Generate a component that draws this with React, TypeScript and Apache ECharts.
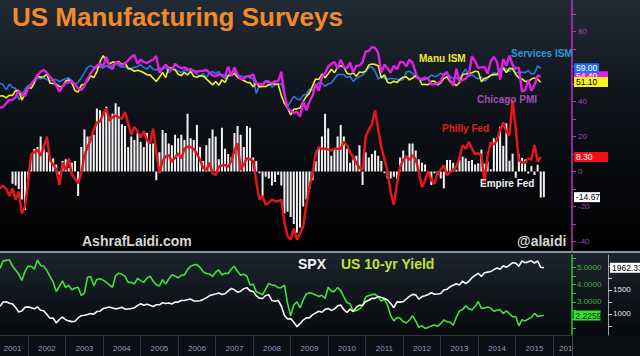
import React, { useEffect, useRef } from 'react';
import * as echarts from 'echarts';

const FONT = '"Liberation Sans", Arial, sans-serif';

// ---- category axis: months, Apr 2001 .. Jul 2016 ----
const START_YEAR = 2001;
const START_MONTH = 4;
const N_CATS = 184;
const months: string[] = [];
for (let k = 0; k < N_CATS; k++) {
  const m0 = START_MONTH - 1 + k;
  const y = START_YEAR + Math.floor(m0 / 12);
  const m = (m0 % 12) + 1;
  months.push(`${y}-${String(m).padStart(2, '0')}`);
}

// year labels of the bottom axis and the month under which each is centred
const yearLabels = ['2001', '2002', '2003', '2004', '2005', '2006', '2007', '2008', '2009', '2010', '2011', '2012', '2013', '2014', '2015', '201'];
const yearLabelMonths = ['2001-08', '2002-07', '2003-07', '2004-07', '2005-07', '2006-07', '2007-07', '2008-07', '2009-07', '2010-07', '2011-07', '2012-07', '2013-07', '2014-07', '2015-07', '2016-05'];

// ---- upper panel (diffusion indices), one value per month from the first category ----
const manuISM = [
  43.1, 43.2, 42.1, 43.6, 43.5, 46.3, 46.2, 40.8, 44.5, 48.2,
  47.5, 50.7, 54.7, 53.9, 54.1, 55.7, 50.5, 50.3, 50.0, 48.5, 48.5, 51.6,
  52.4, 50.5, 46.2, 45.4, 49.4, 49.8, 51.8, 54.7, 53.7, 57.0, 62.8, 66.2,
  63.6, 61.4, 62.5, 62.4, 62.8, 61.1, 62.0, 59.0, 58.5, 57.3, 57.8, 57.3,
  56.4, 55.3, 55.2, 53.3, 51.4, 53.8, 56.6, 53.6, 59.4, 59.1, 58.1, 55.6,
  54.8, 56.7, 55.2, 57.3, 54.4, 53.8, 54.7, 54.5, 52.9, 51.2, 49.5, 51.4,
  49.3, 52.3, 50.9, 54.7, 55.0, 56.0, 53.8, 52.9, 52.0, 50.9, 50.8, 48.4,
  50.7, 48.3, 48.6, 48.6, 49.6, 50.2, 50.0, 49.9, 43.5, 38.9, 36.2, 32.4,
  35.6, 35.8, 36.3, 40.1, 42.8, 44.8, 48.9, 52.9, 52.6, 55.7, 53.6, 55.9,
  58.4, 56.5, 59.6, 60.4, 59.7, 56.2, 55.5, 56.3, 54.4, 56.9, 56.6, 57.5,
  60.8, 61.4, 61.2, 60.4, 53.5, 55.3, 50.9, 50.6, 51.6, 50.8, 52.7, 53.9,
  54.1, 52.4, 53.4, 54.8, 53.5, 49.7, 49.8, 49.6, 51.5, 51.7, 49.5, 50.7,
  53.1, 54.2, 51.3, 50.7, 49.0, 50.9, 55.4, 55.7, 56.2, 56.4, 57.3, 57.0,
  51.3, 53.2, 53.7, 54.9, 55.4, 55.3, 57.1, 59.0, 56.6, 59.0, 58.7, 55.5,
  53.5, 52.9, 51.5, 51.5, 52.8, 53.5, 52.7, 51.1,
];

const servicesISM = [
  50.5, 49.5, 46.6, 50.0, 48.0, 47.5, 41.0, 43.5, 47.0, 49.0,
  49.5, 52.5, 53.5, 53.0, 53.4, 52.5, 51.8, 52.4, 52.5, 51.3, 52.3, 53.0,
  53.5, 52.0, 49.5, 51.0, 53.5, 56.5, 59.5, 60.5, 59.5, 59.0, 60.0, 59.0,
  60.5, 59.0, 61.0, 61.5, 60.5, 59.5, 60.0, 58.5, 59.0, 59.5, 60.0, 61.0,
  59.5, 58.5, 60.5, 58.5, 58.0, 59.0, 58.5, 59.5, 56.5, 58.0, 58.5, 57.5,
  56.5, 58.0, 57.5, 59.0, 57.0, 55.5, 54.5, 56.0, 53.5, 56.5, 57.0, 56.0,
  57.0, 54.5, 53.0, 55.5, 56.5, 57.0, 54.5, 54.5, 54.0, 54.5, 53.5, 53.0,
  44.6, 49.3, 49.6, 52.0, 51.7, 48.2, 49.5, 50.0, 50.2, 44.4, 37.3, 40.1,
  42.9, 41.6, 40.8, 43.7, 44.0, 47.0, 46.4, 48.4, 50.9, 50.6, 48.7, 50.1,
  50.5, 53.0, 55.4, 55.4, 55.4, 53.8, 54.3, 51.5, 53.2, 54.3, 55.0, 57.1,
  59.4, 59.7, 57.3, 52.8, 54.6, 53.3, 52.7, 53.3, 53.0, 52.9, 52.0, 52.6,
  56.8, 57.3, 56.0, 53.5, 53.7, 52.1, 52.6, 53.7, 55.1, 54.2, 54.7, 56.1,
  55.2, 56.0, 54.4, 53.1, 53.7, 52.2, 56.0, 58.6, 54.4, 55.4, 53.9, 53.0,
  54.0, 51.6, 53.1, 55.2, 56.3, 56.0, 58.7, 59.6, 58.6, 57.1, 59.3, 56.2,
  56.7, 56.9, 56.5, 57.8, 55.7, 56.0, 60.3, 59.0,
];

const chicagoPMI = [
  36.3, 37, 39, 40.9, 41, 42.5, 46, 44.5, 43, 48,
  50, 52.3, 55, 57, 58, 56.5, 54, 52.3, 49, 45.6,
  48.5, 50.5, 51, 51.5, 49.7, 47.5, 46.6, 49, 53, 56,
  58.5, 60.5, 61.8, 60, 65.5, 60, 58.5, 62.5, 62, 60.5,
  61.8, 63.5, 65.5, 66.6, 61.5, 64, 62.5, 62, 63, 64,
  66, 56.5, 59, 61, 59, 58, 61.5, 60, 59, 59.5,
  58.5, 58, 57.5, 57, 57.5, 57.5, 58, 56.5, 55, 54.5,
  55.5, 55, 54.5, 60, 54.5, 59.5, 55.5, 53, 53, 54.5,
  54.5, 55.5, 50.5, 50, 49.5, 51.5, 51, 50.5, 51.5, 51.5,
  57, 44, 36, 35,
  33.3, 34.2, 31.4, 40.1, 34.9, 39.9, 43.4, 50.0, 46.1, 54.2, 56.1, 60.0,
  61.5, 62.6, 58.8, 63.8, 59.7, 59.1, 62.3, 56.7, 60.4, 60.6, 62.5, 68.6,
  68.8, 71.2, 70.6, 67.6, 56.6, 61.1, 58.8, 56.5, 60.4, 58.4, 62.6, 62.5,
  60.2, 64.0, 62.2, 56.2, 52.7, 52.9, 53.7, 53.0, 49.7, 49.9, 50.4, 51.6,
  55.6, 56.8, 52.4, 49.0, 58.7, 51.6, 52.3, 53.0, 55.7, 65.9, 63.0, 59.1,
  59.6, 59.8, 55.9, 63.0, 65.5, 62.6, 52.6, 64.3, 60.5, 66.2, 60.8, 58.8,
  59.4, 45.8, 46.3, 52.3, 46.2, 49.4, 54.7, 54.4,
];

const phillyFed = [
  -9.6, -8, -10, -14, -9.5, -16, -11.5, -24, -20, -6,
  10, 11, 12.5, 9, 14, 20, 6.6, 4, 1, -7.7,
  5, 1, 7.5, -2, -4, -6.8, -1, 9, 14, 18,
  24, 28, 28.5, 33, 36, 29, 31, 32, 31, 30,
  34, 27.5, 21, 25.5, 23, 19.5, 23, 18, 16, 24.5,
  11, -1, 6, 8.5, 9.4, 5.6, 8, 10.4, 7.5, 13,
  14.2, 14, 13, 10, 6.6, 2, 1, 5, -1, -2,
  2.7, 3.5, 3.7, 2.7, 6, 12, 16, 1, 4, 7.5,
  7, 6, -5.8, -16, -14, -19, -18, -16, -17, -17,
  -16, -29, -37, -39, -32.5, -39, -35.3, -31.5, -19, -9,
  -1, 10, 14, 13, 13, 12.5, 12, 13, 13, 13,
  17, 15, 11, 8, 5, 2, 1, 20, 24, 27,
  35, 24, 14, 7, 0, -12, -19, -7, 2.7, 6.6,
  8.5, 6.6, 9.4, 7, 0, -9, -5, 0, -5, -7,
  -1, 1, 3.5, -2, -0.5, 1, 2.7, 8, 15, 13,
  17, 13, 10, 10.4,
  9.4, -6.3, 9.0, 16.6, 15.4, 17.8, 23.9, 28.0, 22.5, 20.7, 40.8, 24.3,
  6.3, 5.2, 5.0, 7.5, 6.7, 15.2, 5.7, 8.3,
];

// Empire Fed survey starts four months after the first category
const EMPIRE_OFFSET = 4;
const empireFed = [
  -7, -8, -10, -16, -22, -5, 10, 13, 14, 20,
  13, 11, 8, 7.5, 4, -2, 6, 7, 2, 5,
  6, -14, 14, 24, 20, 20, 21, 36, 35, 33,
  37, 31, 33, 39, 37, 27, 26, 14, 20, 18,
  22, 17, 14, 22, 17, 16, -5, 11, 23.7, 22,
  16, 15, 21, 19, 21, 18, 33, 19, 18, 26.6,
  14, 6, 15, 19, 24, 20, 7, 25, 13, 10,
  8, 22, 26, 21, 14, 26, 25, 8, 6, -1,
  -14, -3, -4, -8, -6, -2, -8, -24, -23, -26,
  -30, -35, -32, -20, -16, -10, -5, 6, 14, 20,
  33, 24.7, 9, 13, 20, 26.6, 20, 13, 5, 7,
  9, 15, -7.7, 11, 8, 10, 12, 9, 6, -1,
  -4, -4, -3, -4, 8, 12, 9, 16, 16, 12,
  7, 5, 4, -2, -7.7, -1, -2, -4, -9.6, 6.6,
  6.6, 5, 1, 6.6, 8.5, 7.5, 6, 6.6, 4, 4.7,
  12.5, 4.5, 5.6, 1.3, 19.0, 19.3, 25.6, 14.7, 27.5, 6.2, 10.2, -3.6,
  10.0, 7.8, 6.9, -1.2, 3.1, -2.0, 3.9, -14.9, -14.67,
];

// ---- lower panel ----
const spx = [
  1160,
  1249, 1256, 1224, 1211, 1134, 1041, 1060, 1139, 1148,
  1130, 1107, 1147, 1077, 1067, 990, 912, 916, 815, 886, 936, 880,
  856, 841, 848, 917, 964, 975, 990, 1008, 996, 1051, 1058, 1112,
  1131, 1145, 1126, 1107, 1121, 1141, 1102, 1104, 1115, 1130, 1174, 1212,
  1181, 1204, 1181, 1157, 1192, 1191, 1234, 1220, 1229, 1207, 1249, 1248,
  1280, 1281, 1295, 1311, 1270, 1270, 1277, 1304, 1336, 1378, 1401, 1418,
  1438, 1407, 1421, 1482, 1531, 1503, 1455, 1474, 1527, 1549, 1481, 1468,
  1379, 1331, 1323, 1386, 1400, 1280, 1267, 1283, 1166, 969, 896, 903,
  826, 735, 798, 873, 919, 919, 987, 1021, 1057, 1036, 1096, 1115,
  1074, 1104, 1169, 1187, 1089, 1031, 1102, 1049, 1141, 1183, 1181, 1258,
  1286, 1327, 1326, 1364, 1345, 1321, 1292, 1219, 1131, 1253, 1247, 1258,
  1312, 1366, 1408, 1398, 1310, 1362, 1379, 1407, 1441, 1412, 1416, 1426,
  1498, 1515, 1569, 1598, 1631, 1606, 1686, 1633, 1682, 1757, 1806, 1848,
  1783, 1859, 1872, 1884, 1924, 1960, 1931, 2003, 1972, 2018, 2068, 2059,
  1995, 2105, 2068, 2086, 2107, 2063, 2104, 1972,
  1962.33,
];

const us10y = [
  4.92,
  5.35, 5.38, 5.41, 5.05, 4.83, 4.59, 4.23, 4.75, 5.05,
  5.03, 4.88, 5.40, 5.09, 5.04, 4.80, 4.46, 4.14, 3.60, 3.89, 4.21, 3.82,
  3.96, 3.69, 3.80, 3.84, 3.37, 3.51, 4.41, 4.46, 3.94, 4.29, 4.33, 4.25,
  4.13, 3.97, 3.84, 4.51, 4.65, 4.58, 4.48, 4.12, 4.12, 4.03, 4.35, 4.22,
  4.13, 4.36, 4.48, 4.20, 3.98, 3.92, 4.28, 4.02, 4.32, 4.56, 4.49, 4.39,
  4.52, 4.55, 4.85, 5.05, 5.12, 5.14, 4.98, 4.73, 4.63, 4.60, 4.46, 4.70,
  4.83, 4.56, 4.64, 4.63, 4.89, 5.03, 4.74, 4.53, 4.59, 4.47, 3.97, 4.02,
  3.59, 3.51, 3.41, 3.73, 4.06, 3.97, 3.95, 3.81, 3.82, 3.97, 2.93, 2.21,
  2.84, 3.01, 2.67, 3.12, 3.46, 3.53, 3.48, 3.40, 3.31, 3.39, 3.20, 3.84,
  3.61, 3.61, 3.83, 3.65, 3.29, 2.97, 2.90, 2.47, 2.51, 2.60, 2.80, 3.29,
  3.37, 3.42, 3.45, 3.29, 3.05, 3.16, 2.80, 2.22, 1.92, 2.11, 2.07, 1.88,
  1.80, 1.97, 2.21, 1.91, 1.56, 1.64, 1.49, 1.55, 1.63, 1.69, 1.61, 1.76,
  1.98, 1.87, 1.85, 1.67, 2.13, 2.49, 2.58, 2.78, 2.61, 2.55, 2.74, 3.03,
  2.64, 2.65, 2.72, 2.65, 2.47, 2.53, 2.56, 2.34, 2.49, 2.33, 2.16, 2.17,
  1.64, 1.99, 1.92, 2.03, 2.12, 2.35, 2.18, 2.21,
  2.2259,
];

const last = (a: number[]) => a[a.length - 1];

function tag(value: number, text: string, bg: string, fg: string, w: number, xOff: number, z: number) {
  return {
    z,
    silent: true,
    animation: false,
    symbol: 'rect',
    symbolSize: [w, 10],
    symbolOffset: [xOff, 0],
    itemStyle: { color: bg },
    label: {
      show: true,
      position: 'insideLeft',
      distance: 2,
      formatter: text,
      color: fg,
      fontSize: 8.5,
      fontFamily: FONT,
    },
    data: [{ coord: [months[N_CATS - 1], value] }],
  };
}

function txt(x: number, y: number, text: string, fill: string, size: number) {
  return {
    type: 'text',
    x,
    y,
    z: 100,
    silent: true,
    style: {
      text,
      fill,
      font: `bold ${size}px ${FONT}`,
      textAlign: 'left',
      textVerticalAlign: 'middle',
    },
  };
}

function buildOption() {
  const empireData = [...new Array(EMPIRE_OFFSET).fill(null), ...empireFed];
  return {
    animation: false,
    backgroundColor: '#000',
    textStyle: { fontFamily: FONT },
    graphic: [
      {
        type: 'rect', z: -10, silent: true,
        shape: { x: 0, y: 0, width: 640, height: 252 },
        style: {
          fill: new echarts.graphic.LinearGradient(0, 0, 0, 1, [
            { offset: 0, color: '#212b36' },
            { offset: 0.45, color: '#0d1117' },
            { offset: 1, color: '#000000' },
          ]),
        },
      },
      {
        type: 'rect', z: -10, silent: true,
        shape: { x: 0, y: 251, width: 640, height: 2 },
        style: { fill: '#8d949b' },
      },
      {
        type: 'rect', z: -10, silent: true,
        shape: { x: 0, y: 253, width: 640, height: 82 },
        style: {
          fill: new echarts.graphic.LinearGradient(0, 0, 0, 1, [
            { offset: 0, color: '#1c242e' },
            { offset: 1, color: '#07090c' },
          ]),
        },
      },
      {
        type: 'rect', z: -10, silent: true,
        shape: { x: 0, y: 335, width: 640, height: 21 },
        style: { fill: '#0b0e13' },
      },
      {
        type: 'line', z: 1, silent: true,
        shape: { x1: 572.5, y1: 335, x2: 572.5, y2: 356 },
        style: { stroke: '#3a4350', lineWidth: 1 },
      },
      txt(12, 17, 'US Manufacturing Surveys', '#f28a2a', 26),
      txt(419, 58, 'Manu ISM', '#ecec2c', 10),
      txt(511, 53, 'Services ISM', '#3396d8', 10),
      txt(477, 99, 'Chicago PMI', '#a14fbd', 10),
      txt(442, 128, 'Philly Fed', '#e0201f', 10),
      txt(480, 183, 'Empire Fed', '#f2f2f2', 10),
      txt(82, 241, 'AshrafLaidi.com', '#d6d6d6', 14),
      txt(517, 241, '@alaidi', '#d6d6d6', 14),
      txt(298, 264, 'SPX', '#f4f4f4', 14),
      txt(341, 264, 'US 10-yr Yield', '#c5e22c', 14),
    ],
    grid: [
      { left: 0, top: 0, width: 572, height: 252, outerBoundsMode: 'none' },
      { left: 0, top: 255, width: 572, height: 80, outerBoundsMode: 'none' },
    ],
    xAxis: [
      { type: 'category', gridIndex: 0, data: months, boundaryGap: false, show: false },
      {
        type: 'category', gridIndex: 1, data: months, boundaryGap: false,
        axisLine: { show: true, lineStyle: { color: '#2e3642', width: 1 } },
        axisTick: {
          show: true, length: 21,
          interval: (_i: number, v: string) => v.endsWith('-01'),
          lineStyle: { color: '#2e3642', width: 1 },
        },
        axisLabel: {
          show: true,
          interval: (_i: number, v: string) => yearLabelMonths.includes(v),
          formatter: (v: string) => yearLabels[yearLabelMonths.indexOf(v)] ?? '',
          color: '#8d9cbc', fontSize: 8, margin: 9,
        },
        splitLine: { show: false },
      },
    ],
    yAxis: [
      {
        type: 'value', gridIndex: 0, position: 'right',
        min: -46, max: 98, minInterval: 10, maxInterval: 10,
        axisLine: { show: true, lineStyle: { color: '#c22fc6', width: 1.5 } },
        axisTick: { show: true, length: 4, lineStyle: { color: '#c22fc6' } },
        axisLabel: {
          showMinLabel: false, showMaxLabel: false, margin: 6,
          color: '#a544b8', fontSize: 8,
          formatter: (v: number) => (v % 20 === 0 && v !== 60 && v >= -40 && v <= 80 ? String(v) : ''),
        },
        splitLine: { show: false },
      },
      {
        type: 'value', gridIndex: 1, position: 'right',
        min: 1.114, max: 5.686, minInterval: 0.5, maxInterval: 0.5,
        axisLine: { show: true, lineStyle: { color: '#2fc42f', width: 1.5 } },
        axisTick: { show: true, length: 4, lineStyle: { color: '#2fc42f' } },
        axisLabel: {
          showMinLabel: false, showMaxLabel: false, margin: 5,
          color: '#3cb43c', fontSize: 8,
          formatter: (v: number) => (Math.abs(v - Math.round(v)) < 1e-9 && v >= 3 && v <= 5 ? v.toFixed(4) : ''),
        },
        splitLine: { show: false },
      },
      {
        type: 'value', gridIndex: 1, position: 'right', offset: 36,
        min: 562, max: 2229, minInterval: 250, maxInterval: 250,
        axisLine: { show: true, lineStyle: { color: '#9aa1a8', width: 1 } },
        axisTick: { show: true, length: 4, lineStyle: { color: '#d0d0d0' } },
        axisLabel: {
          showMinLabel: false, showMaxLabel: false, margin: 5,
          color: '#e6e6e6', fontSize: 8,
          formatter: (v: number) => (v === 1000 || v === 1500 ? String(v) : ''),
        },
        splitLine: { show: false },
      },
    ],
    series: [
      {
        name: 'Empire Fed', type: 'bar', xAxisIndex: 0, yAxisIndex: 0,
        data: empireData, barWidth: 2, itemStyle: { color: '#f2f2f2' }, z: 2,
        markPoint: tag(last(empireFed), last(empireFed).toFixed(2), '#ffffff', '#000000', 26, 15, 10),
      },
      {
        name: 'Philly Fed', type: 'line', xAxisIndex: 0, yAxisIndex: 0,
        data: phillyFed, symbol: 'none', lineStyle: { color: '#e3161b', width: 2.5 }, z: 3,
        markPoint: tag(last(phillyFed), last(phillyFed).toFixed(2), '#f01212', '#ffffff', 34, 19, 10),
      },
      {
        name: 'Services ISM', type: 'line', xAxisIndex: 0, yAxisIndex: 0,
        data: servicesISM, symbol: 'none', lineStyle: { color: '#2a78e6', width: 1.6 }, z: 4,
        markPoint: tag(last(servicesISM), last(servicesISM).toFixed(2), '#1f6ff0', '#ffffff', 25, 14.5, 12),
      },
      {
        name: 'Manu ISM', type: 'line', xAxisIndex: 0, yAxisIndex: 0,
        data: manuISM, symbol: 'none', lineStyle: { color: '#f2ef2a', width: 1.6 }, z: 5,
        markPoint: tag(last(manuISM), last(manuISM).toFixed(2), '#f6f31e', '#000000', 34, 19, 13),
      },
      {
        name: 'Chicago PMI', type: 'line', xAxisIndex: 0, yAxisIndex: 0,
        data: chicagoPMI, symbol: 'none', lineStyle: { color: '#e21fe4', width: 2.4 }, z: 6,
        markPoint: tag(last(chicagoPMI), last(chicagoPMI).toFixed(2), '#e21fe4', '#ffffff', 34, 19, 11),
      },
      {
        name: 'US 10-yr Yield', type: 'line', xAxisIndex: 1, yAxisIndex: 1,
        data: us10y, symbol: 'none', lineStyle: { color: '#3fe23a', width: 1.6 }, z: 3,
        markPoint: tag(last(us10y), last(us10y).toFixed(4), '#33e033', '#0a2a0a', 27, 15, 10),
      },
      {
        name: 'SPX', type: 'line', xAxisIndex: 1, yAxisIndex: 2,
        data: spx, symbol: 'none', lineStyle: { color: '#f5f5f5', width: 1.6 }, z: 4,
        markPoint: tag(last(spx), last(spx).toFixed(2), '#ffffff', '#000000', 31, 53.5, 10),
      },
    ],
  };
}

export default function App() {
  const ref = useRef<HTMLDivElement>(null);
  useEffect(() => {
    document.body.style.margin = '0';
    const chart = echarts.init(ref.current!, null, { renderer: 'svg' });
    chart.setOption(buildOption() as any);
    return () => chart.dispose();
  }, []);
  return <div ref={ref} style={{ width: 640, height: 356 }} />;
}
